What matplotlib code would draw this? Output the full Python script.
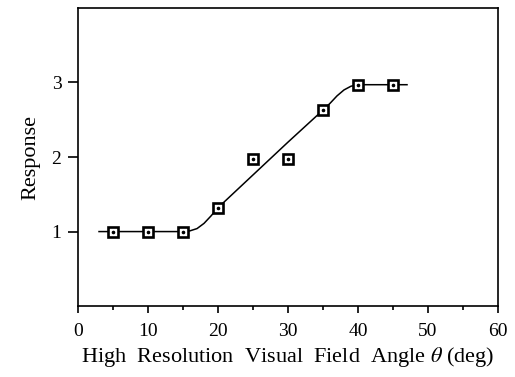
import matplotlib.pyplot as plt
from matplotlib.ticker import MultipleLocator

plt.rcParams['font.family'] = ['Liberation Serif', 'DejaVu Serif']
plt.rcParams['mathtext.fontset'] = 'stix'

# measured points
angle = [5, 10, 15, 20, 25, 30, 35, 40, 45]
response = [1.0, 1.0, 1.0, 1.32, 1.98, 1.98, 2.63, 2.97, 2.97]

# fitted curve
curve_x = [3, 15, 16, 17, 18, 19, 20, 25, 30, 35, 36, 37, 38, 39, 40, 47]
curve_y = [1.0, 1.0, 1.01, 1.04, 1.11, 1.21, 1.32, 1.76, 2.20, 2.63, 2.72, 2.82, 2.90, 2.95, 2.97, 2.97]

fig = plt.figure(figsize=(5.15, 3.77), dpi=100)
ax = fig.add_axes([0.1515, 0.188, 0.8155, 0.791])

ax.plot(curve_x, curve_y, color='black', lw=1.1)
ax.plot(angle, response, ls='none', marker='s', ms=7.5, mfc='white', mec='black', mew=1.9)
ax.plot(angle, response, ls='none', marker='o', ms=1.6, color='black')

ax.set_xlim(0, 60)
ax.set_ylim(0, 4)
ax.set_xticks([0, 10, 20, 30, 40, 50, 60])
ax.xaxis.set_minor_locator(MultipleLocator(5))
ax.set_yticks([1, 2, 3])
ax.tick_params(axis='x', which='major', direction='out', length=5, width=1.2, labelsize=14, pad=7)
ax.tick_params(axis='x', which='minor', direction='out', length=3, width=1.2)
ax.tick_params(axis='y', direction='out', length=7, width=1.2, labelsize=14, pad=5)
for s in ax.spines.values():
    s.set_linewidth(1.2)

ax.set_xlabel(r'High  Resolution  Visual  Field  Angle $\theta$ (deg)', fontsize=16, labelpad=4)
ax.set_ylabel('Response', fontsize=16, labelpad=8)

fig.savefig('out.png', dpi=100)
